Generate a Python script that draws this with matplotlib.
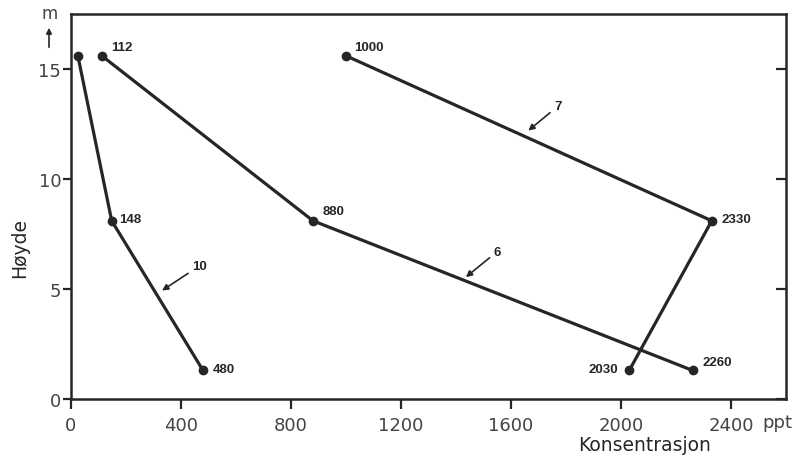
import matplotlib
matplotlib.use("Agg")
import matplotlib.pyplot as plt
from matplotlib.patches import FancyArrowPatch

# Data
heights = [15.6, 8.1, 1.3]
conc_10 = [25, 148, 480]
conc_6 = [112, 880, 2260]
conc_7 = [1000, 2330, 2030]
labels_10 = [None, "148", "480"]
labels_6 = ["112", "880", "2260"]
labels_7 = ["1000", "2330", "2030"]
x_ticks = [0, 400, 800, 1200, 1600, 2000, 2400]
y_ticks = [0, 5, 10, 15]

ink = "#262626"
fig = plt.figure(figsize=(8.05, 4.6), dpi=100)
ax = fig.add_axes([71/805, 1-400/460, (786-71)/805, (400-15)/460])
ax.set_xlim(0, 2600)
ax.set_ylim(0, 17.5)

for xs in (conc_10, conc_6, conc_7):
    ax.plot(xs, heights, color=ink, lw=2.3, marker="o", ms=6, solid_capstyle="round")

lab_font = dict(family="Liberation Sans", weight="bold", size=9.5, color=ink)
offs_10 = [None, (5, 1), (7, 1)]
offs_6 = [(7, 2), (7, 3), (7, 2)]
offs_7 = [(6, 2), (7, 1), (-8, 1)]
for xs, labs, offs in ((conc_10, labels_10, offs_10), (conc_6, labels_6, offs_6), (conc_7, labels_7, offs_7)):
    for x, y, lab, off in zip(xs, heights, labs, offs):
        if lab is None:
            continue
        ha = "left" if off[0] >= 0 else "right"
        ax.annotate(lab, (x, y), xytext=off, textcoords="offset points",
                    ha=ha, va="bottom" if off[1] > 1 else "center", **lab_font)

# series labels with arrows
arrows = [("10", (331, 4.93), (440, 6.05)), ("6", (1436, 5.54), (1536, 6.7)), ("7", (1663, 12.2), (1756, 13.3))]
for txt, head, tpos in arrows:
    ax.annotate(txt, xy=head, xytext=tpos, ha="left", va="center", **lab_font,
                arrowprops=dict(arrowstyle="-|>", color=ink, lw=1.2, mutation_scale=9,
                                shrinkA=1, shrinkB=0))

for s in ax.spines.values():
    s.set_linewidth(1.8)
    s.set_color(ink)

ax.set_xticks(x_ticks)
ax.set_yticks(y_ticks)
ax.tick_params(axis="both", labelsize=13, labelcolor="#444444", color=ink, width=1.6)
ax.tick_params(axis="x", direction="out", length=7, pad=5)
ax.tick_params(axis="y", direction="out", length=6, pad=1)

axr = ax.twinx()
axr.set_ylim(ax.get_ylim())
axr.set_yticks(y_ticks)
axr.tick_params(axis="y", direction="in", length=7, width=1.6, color=ink, labelright=False)
for s in axr.spines.values():
    s.set_visible(False)

fig.text(762/805, 1-423/460, "ppt", ha="left", va="center", fontsize=13, color="#444444")
fig.text(645/805, 1-446/460, "Konsentrasjon", ha="center", va="center", fontsize=13.5, color=ink)
fig.text(20/805, 1-248/460, "Høyde", ha="center", va="center", rotation=90, fontsize=13.5, color=ink)
fig.text(50/805, 1-14/460, "m", ha="center", va="center", fontsize=12, color="#444444")
fig.patches.append(FancyArrowPatch((49/805, 1-51/460), (49/805, 1-26/460),
                   transform=fig.transFigure, arrowstyle="-|>", mutation_scale=8, color=ink, lw=1.2))

fig.savefig("out.png", dpi=100, facecolor="white")
